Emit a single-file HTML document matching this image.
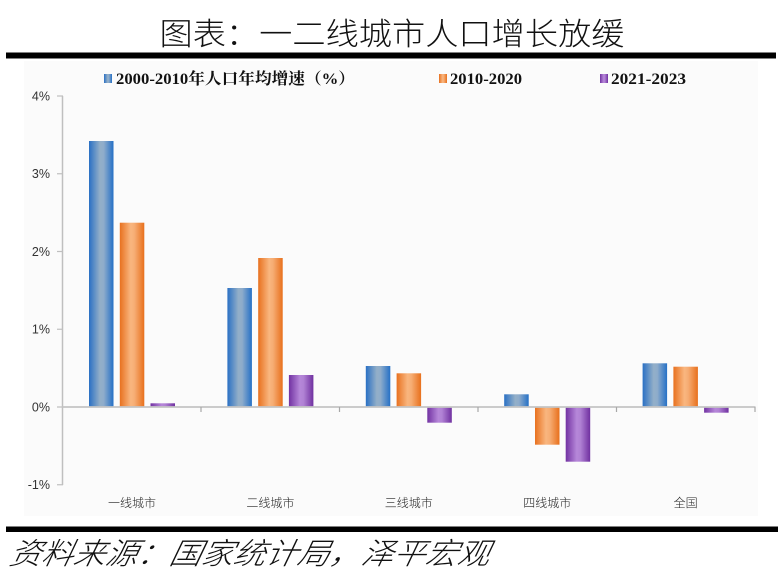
<!DOCTYPE html>
<html>
<head>
<meta charset="utf-8">
<style>
  html,body{margin:0;padding:0;background:#fff;}
  body{width:782px;height:585px;overflow:hidden;}
  svg{display:block;}
</style>
</head>
<body>
<svg width="782" height="585" viewBox="0 0 782 585" xmlns="http://www.w3.org/2000/svg">
  <defs>
    <linearGradient id="gb" x1="0" y1="0" x2="1" y2="0">
      <stop offset="0" stop-color="#2a70c4"/>
      <stop offset="0.45" stop-color="#93afc8"/>
      <stop offset="0.6" stop-color="#8eaccb"/>
      <stop offset="1" stop-color="#2570c6"/>
    </linearGradient>
    <linearGradient id="go" x1="0" y1="0" x2="1" y2="0">
      <stop offset="0" stop-color="#e8711f"/>
      <stop offset="0.45" stop-color="#f9b67f"/>
      <stop offset="0.6" stop-color="#f6ad74"/>
      <stop offset="1" stop-color="#e8701c"/>
    </linearGradient>
    <linearGradient id="gp" x1="0" y1="0" x2="1" y2="0">
      <stop offset="0" stop-color="#7232a2"/>
      <stop offset="0.45" stop-color="#b687d9"/>
      <stop offset="0.6" stop-color="#b081d4"/>
      <stop offset="1" stop-color="#7030a0"/>
    </linearGradient>
  </defs>

  <!-- Title -->
  <text x="392" y="45" text-anchor="middle" textLength="465" lengthAdjust="spacingAndGlyphs"
        font-family="'Noto Sans CJK SC','WenQuanYi Zen Hei',sans-serif" font-weight="300" font-size="31" fill="#111">图表：一二线城市人口增长放缓</text>
  <rect x="6" y="52.5" width="770" height="6" fill="#000"/>

  <!-- chart background -->
  <rect x="24" y="61" width="734" height="455" fill="#fbfbfb"/>

  <!-- Legend -->
  <rect x="104" y="74" width="8" height="9" fill="url(#gb)"/>
  <text x="116" y="84" textLength="239" lengthAdjust="spacingAndGlyphs"
        font-family="'Liberation Serif','Noto Serif CJK SC','Noto Sans CJK SC',serif" font-weight="bold" font-size="16" fill="#111">2000-2010年人口年均增速（%）</text>
  <rect x="439" y="74" width="8" height="9" fill="url(#go)"/>
  <text x="450" y="84" textLength="72" lengthAdjust="spacingAndGlyphs"
        font-family="'Liberation Serif',serif" font-weight="bold" font-size="16" fill="#111">2010-2020</text>
  <rect x="600" y="74" width="8" height="9" fill="url(#gp)"/>
  <text x="611" y="84" textLength="75" lengthAdjust="spacingAndGlyphs"
        font-family="'Liberation Serif',serif" font-weight="bold" font-size="16" fill="#111">2021-2023</text>

  <!-- Y axis -->
  <line x1="62.5" y1="96" x2="62.5" y2="485" stroke="#bfbfbf" stroke-width="1.5"/>
  <g stroke="#bfbfbf" stroke-width="1.2">
    <line x1="57" y1="96" x2="63" y2="96"/>
    <line x1="57" y1="173.75" x2="63" y2="173.75"/>
    <line x1="57" y1="251.5" x2="63" y2="251.5"/>
    <line x1="57" y1="329.25" x2="63" y2="329.25"/>
    <line x1="57" y1="407" x2="63" y2="407"/>
    <line x1="57" y1="484.75" x2="63" y2="484.75"/>
  </g>
  <g font-family="'Liberation Sans',sans-serif" font-size="12.5" fill="#333" text-anchor="end">
    <text x="50" y="100.5">4%</text>
    <text x="50" y="178">3%</text>
    <text x="50" y="256">2%</text>
    <text x="50" y="333.5">1%</text>
    <text x="50" y="411.5">0%</text>
    <text x="50" y="489">-1%</text>
  </g>

  <!-- Bars: scale 77.75px per 1%, zero at 407 -->
  <!-- Group 1 center 132 -->
  <rect x="89" y="141" width="24.5" height="266" fill="url(#gb)"/>
  <rect x="119.8" y="222.7" width="24.5" height="184.3" fill="url(#go)"/>
  <rect x="150.5" y="403.3" width="24.5" height="3.7" fill="url(#gp)"/>
  <!-- Group 2 center 270.4 -->
  <rect x="227.4" y="288" width="24.5" height="119" fill="url(#gb)"/>
  <rect x="258.2" y="258" width="24.5" height="149" fill="url(#go)"/>
  <rect x="288.9" y="375" width="24.5" height="32" fill="url(#gp)"/>
  <!-- Group 3 center 408.8 -->
  <rect x="365.8" y="366" width="24.5" height="41" fill="url(#gb)"/>
  <rect x="396.6" y="373.3" width="24.5" height="33.7" fill="url(#go)"/>
  <rect x="427.3" y="407" width="24.5" height="15.7" fill="url(#gp)"/>
  <!-- Group 4 center 547.2 -->
  <rect x="504.2" y="394.3" width="24.5" height="12.7" fill="url(#gb)"/>
  <rect x="535" y="407" width="24.5" height="37.7" fill="url(#go)"/>
  <rect x="565.7" y="407" width="24.5" height="54.7" fill="url(#gp)"/>
  <!-- Group 5 center 685.6 -->
  <rect x="642.6" y="363.3" width="24.5" height="43.7" fill="url(#gb)"/>
  <rect x="673.4" y="366.7" width="24.5" height="40.3" fill="url(#go)"/>
  <rect x="704.1" y="407" width="24.5" height="5.7" fill="url(#gp)"/>

  <!-- Zero line + category ticks -->
  <line x1="62.5" y1="407" x2="755.5" y2="407" stroke="#c4c4c4" stroke-width="1.8"/>
  <g stroke="#a8a8a8" stroke-width="1.2">
    <line x1="201" y1="407" x2="201" y2="412"/>
    <line x1="339.5" y1="407" x2="339.5" y2="412"/>
    <line x1="478" y1="407" x2="478" y2="412"/>
    <line x1="616.5" y1="407" x2="616.5" y2="412"/>
    <line x1="755" y1="407" x2="755" y2="412"/>
  </g>

  <!-- Category labels -->
  <g font-family="'Noto Sans CJK SC','WenQuanYi Zen Hei',sans-serif" font-weight="300" font-size="12" fill="#222" text-anchor="middle">
    <text x="132" y="507">一线城市</text>
    <text x="270.4" y="507">二线城市</text>
    <text x="408.8" y="507">三线城市</text>
    <text x="547.2" y="507">四线城市</text>
    <text x="685.6" y="507">全国</text>
  </g>

  <!-- Bottom bar -->
  <rect x="6" y="526.5" width="772" height="5.5" fill="#000"/>

  <!-- Footer -->
  <text x="10" y="564" textLength="480" lengthAdjust="spacingAndGlyphs"
        font-family="'Noto Sans CJK SC','WenQuanYi Zen Hei',sans-serif" font-weight="300" font-style="italic" font-size="30" fill="#111"
        transform="skewX(-12) translate(118,0)">资料来源：国家统计局，泽平宏观</text>
</svg>
</body>
</html>
